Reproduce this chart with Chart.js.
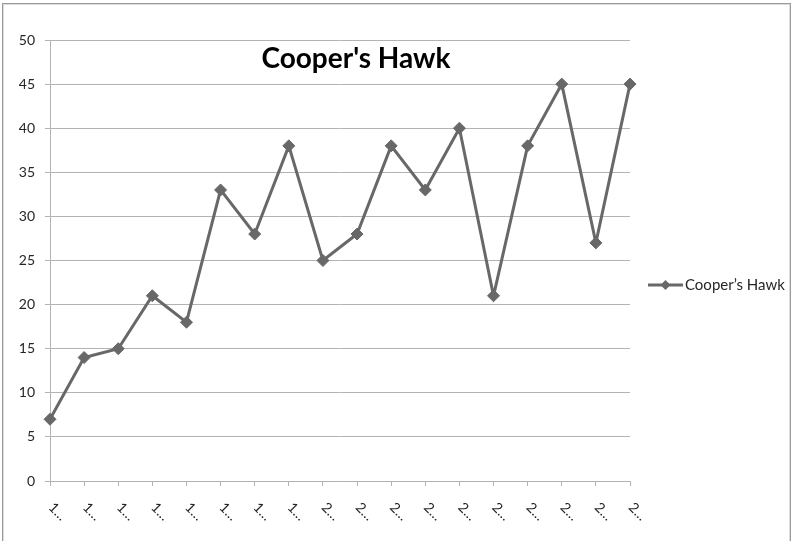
<!DOCTYPE html>
<html>
<head>
<meta charset="utf-8">
<script src="https://cdn.jsdelivr.net/npm/chart.js@4.4.0/dist/chart.umd.min.js"></script>
<style>
  html, body { margin: 0; padding: 0; background: #fff; overflow: hidden; }
  #wrap { position: relative; width: 793px; height: 541px; }
  #chart { position: absolute; left: 0; top: 0; }
  /* outer chart frame, runs off the bottom edge */
  #frame {
    position: absolute; left: 2px; top: 3px; right: 2px; bottom: -20px;
    border: 1px solid #9a9a9a; box-shadow: inset 0 0 0 1px #dcdcdc;
    pointer-events: none;
  }
</style>
</head>
<body>
<div id="wrap">
  <canvas id="chart" width="793" height="541"></canvas>
  <div id="frame"></div>
</div>
<script>
const chartTitle = "Cooper's Hawk";
const seriesName = 'Cooper’s Hawk';
const categories = ['1…', '1…', '1…', '1…', '1…', '1…', '1…', '1…',
                    '2…', '2…', '2…', '2…', '2…', '2…', '2…', '2…', '2…', '2…'];
const hawkCounts = [7, 14, 15, 21, 18, 33, 28, 38, 25, 28, 38, 33, 40, 21, 38, 45, 27, 45];
const yMin = 0;
const yMax = 50;
const yStep = 5;

const LINE_COLOR = '#686868';
const GRID_COLOR = '#b3b3b3';
const TEXT_COLOR = '#262626';
const FONT = 'Lato, "Open Sans", sans-serif';

// title sits inside the plot area
const titlePlugin = {
    id: 'innerTitle',
    afterDraw(chart) {
        const ctx = chart.ctx;
        ctx.save();
        ctx.font = 'bold 28px ' + FONT;
        ctx.fillStyle = '#000';
        ctx.textAlign = 'center';
        ctx.textBaseline = 'middle';
        ctx.fillText(chartTitle, 356, 59);
        ctx.restore();
    }
};

// slanted category labels, hanging down to the right of each tick
const xLabelPlugin = {
    id: 'slantLabels',
    afterDraw(chart) {
        const ctx = chart.ctx;
        const xScale = chart.scales.x;
        ctx.save();
        ctx.font = '14px ' + FONT;
        ctx.fillStyle = TEXT_COLOR;
        ctx.textAlign = 'left';
        ctx.textBaseline = 'middle';
        categories.forEach((label, i) => {
            const x = xScale.getPixelForTick(i);
            ctx.save();
            ctx.translate(x + 1, xScale.top + 24);
            ctx.rotate(Math.PI / 4);
            ctx.fillText(label, 0, 0);
            ctx.restore();
        });
        ctx.restore();
    }
};

// legend: line with diamond marker, then the series name
const legendPlugin = {
    id: 'sideLegend',
    afterDraw(chart) {
        const ctx = chart.ctx;
        const ds = chart.data.datasets[0];
        const x0 = chart.chartArea.right + 18;
        const y = 285;
        ctx.save();
        ctx.strokeStyle = ds.borderColor;
        ctx.lineWidth = 3;
        ctx.beginPath();
        ctx.moveTo(x0, y);
        ctx.lineTo(x0 + 35, y);
        ctx.stroke();
        ctx.fillStyle = ds.pointBackgroundColor;
        ctx.beginPath();
        ctx.moveTo(x0 + 17.5, y - 5);
        ctx.lineTo(x0 + 22.5, y);
        ctx.lineTo(x0 + 17.5, y + 5);
        ctx.lineTo(x0 + 12.5, y);
        ctx.closePath();
        ctx.fill();
        ctx.font = '15px ' + FONT;
        ctx.fillStyle = TEXT_COLOR;
        ctx.textAlign = 'left';
        ctx.textBaseline = 'middle';
        ctx.fillText(ds.label, x0 + 37, y);
        ctx.restore();
    }
};

const ctx = document.getElementById('chart').getContext('2d');
new Chart(ctx, {
    type: 'line',
    data: {
        labels: categories,
        datasets: [{
            label: seriesName,
            data: hawkCounts,
            borderColor: LINE_COLOR,
            borderWidth: 3,
            pointStyle: 'rectRot',
            pointRadius: 6,
            pointBorderWidth: 1,
            pointBackgroundColor: LINE_COLOR,
            pointBorderColor: LINE_COLOR,
            tension: 0,
            fill: false
        }]
    },
    options: {
        responsive: false,
        animation: false,
        layout: {
            padding: { left: 0, top: 40, right: 163, bottom: 0 }
        },
        plugins: {
            legend: { display: false },
            title: { display: false },
            tooltip: { enabled: false }
        },
        scales: {
            x: {
                offset: false,
                grid: {
                    drawOnChartArea: false,
                    drawTicks: true,
                    tickLength: 5,
                    color: GRID_COLOR
                },
                border: { display: true, color: GRID_COLOR },
                ticks: { display: false },
                afterFit(scale) { scale.height = 60; }
            },
            y: {
                min: yMin,
                max: yMax,
                grid: {
                    color: GRID_COLOR,
                    tickLength: 5
                },
                border: { display: true, color: GRID_COLOR },
                ticks: {
                    stepSize: yStep,
                    padding: 10,
                    color: TEXT_COLOR,
                    font: { family: FONT, size: 14 }
                },
                afterFit(scale) { scale.width = 50; }
            }
        }
    },
    plugins: [titlePlugin, xLabelPlugin, legendPlugin]
});
</script>
</body>
</html>
